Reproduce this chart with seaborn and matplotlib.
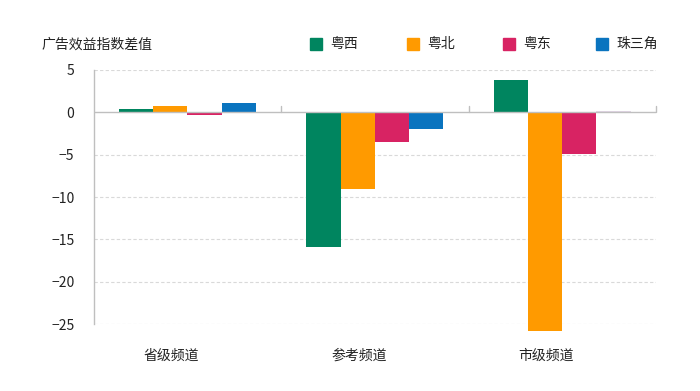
import numpy as np
import pandas as pd
import matplotlib
matplotlib.use('Agg')
import matplotlib.pyplot as plt
import matplotlib.transforms as mtransforms
import seaborn as sns

sns.set_style('white')
plt.rcParams['font.family'] = ['Noto Sans CJK SC', 'DejaVu Sans']
plt.rcParams['axes.unicode_minus'] = False

# 数据
channels = ['省级频道', '参考频道', '市级频道']
regions = ['粤西', '粤北', '粤东', '珠三角']
yuexi = [0.38, -15.9, 3.8]
yuebei = [0.7, -9.0, -25.85]
yuedong = [-0.3, -3.5, -4.9]
zhusanjiao = [1.15, -2.0, 0.12]
colors = ['#00855f', '#ff9a00', '#d82363', '#0a74bf']

df = pd.DataFrame({
    'channel': channels * 4,
    'region': sum([[r] * 3 for r in regions], []),
    'value': yuexi + yuebei + yuedong + zhusanjiao,
})

fig = plt.figure(figsize=(7, 3.91), dpi=100)
ax = fig.add_axes([0.134, 0.171, 0.803, 0.650])

sns.barplot(data=df, x='channel', y='value', hue='region', order=channels,
            hue_order=regions, palette=colors, width=0.73, saturation=1,
            errorbar=None, ax=ax, legend=False, zorder=3)
for p in ax.patches:
    p.set_clip_on(False)
    p.set_linewidth(0)
# 市级频道的珠三角柱显示为浅色
ax.patches[-1].set_facecolor('#e2d6e6')

ax.set_xlim(-0.5, 2.5)
ax.set_ylim(-25, 5)
ax.set_yticks([5, 0, -5, -10, -15, -20, -25])
ax.set_yticklabels(['5', '0', '−5', '−10', '−15', '−20', '−25'])
for y in [5, -5, -10, -15, -20, -25]:
    ax.axhline(y, color='#d9d9d9', lw=0.8, ls=(0, (3, 2)), zorder=1)
ax.axhline(0, color='#bfbfbf', lw=1, zorder=4)
for xb in [0.5, 1.5, 2.5]:
    ax.plot([xb, xb], [0, 0.75], color='#bfbfbf', lw=1, zorder=4, clip_on=False)

for s in ['top', 'right', 'bottom']:
    ax.spines[s].set_visible(False)
ax.spines['left'].set_color('#bfbfbf')
ax.spines['left'].set_linewidth(1)
ax.tick_params(axis='y', length=0, labelsize=10, pad=14, colors='#222222')
ax.tick_params(axis='x', length=0, labelsize=10, pad=18, colors='#222222')
ax.set_xlabel('')
ax.set_ylabel('')
for lab in ax.get_xticklabels():
    lab.set_transform(lab.get_transform() + mtransforms.ScaledTranslation(-16 / 100, 0, fig.dpi_scale_trans))

fig.text(42 / 700, 1 - 45 / 391, '广告效益指数差值', fontsize=10, va='center', color='#222222')

leg_x = [310, 407, 503, 596]
for x, r, c in zip(leg_x, regions, colors):
    fig.patches.append(plt.Rectangle((x / 700, 1 - 50 / 391), 12 / 700, 12 / 391,
                                     transform=fig.transFigure, color=c))
    fig.text((x + 20) / 700, 1 - 44 / 391, r, fontsize=10, va='center', color='#222222')

fig.savefig('out.png', dpi=100)
